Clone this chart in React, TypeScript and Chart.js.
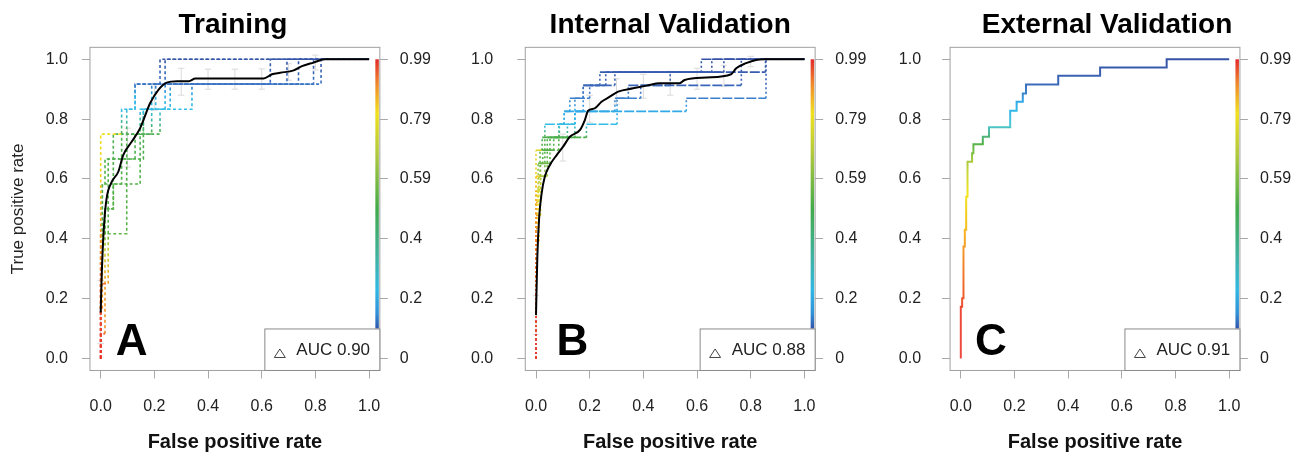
import React, { useEffect, useRef } from "react";
import { Chart, registerables } from "chart.js";

Chart.register(...registerables);

const FONT = "'Liberation Sans', Arial, Helvetica, sans-serif";
Chart.defaults.font.family = FONT;

// ---------- axis ticks ----------
const axisTicks = [0, 0.2, 0.4, 0.6, 0.8, 1.0];
const axisTickLabels = ["0.0", "0.2", "0.4", "0.6", "0.8", "1.0"];
const cutoffTickLabels = ["0", "0.2", "0.4", "0.59", "0.79", "0.99"];

// ---------- Panel A: Training ----------
const trainAvgFpr = [0, 0.004, 0.012, 0.022, 0.041, 0.066, 0.084, 0.116, 0.147, 0.184, 0.215, 0.246, 0.285, 0.328, 0.353, 0.607, 0.638, 0.669, 0.719, 0.75, 0.793, 0.835, 1.0];
const trainAvgTpr = [0.154, 0.285, 0.44, 0.535, 0.59, 0.625, 0.68, 0.725, 0.77, 0.853, 0.898, 0.922, 0.927, 0.927, 0.936, 0.936, 0.95, 0.955, 0.963, 0.977, 0.989, 1.0, 1.0];
const trainErrX = [0, 0.1, 0.2, 0.3, 0.4, 0.5, 0.6, 0.7, 0.8];
const trainErrLo = [0.05, 0.64, 0.83, 0.88, 0.9, 0.9, 0.9, 0.93, 0.964];
const trainErrHi = [0.26, 0.77, 0.92, 0.97, 0.967, 0.967, 0.968, 0.985, 1.014];
// fold curves: [fpr at the end of a plateau, tpr of that plateau]
const trainFold1 = [[0, 0], [0.078, 0.75], [0.128, 0.833], [0.221, 0.917], [1, 1]];
const trainFold2 = [[0, 0], [0.028, 0.25], [0.097, 0.417], [0.147, 0.583], [0.159, 0.667], [0.221, 0.75], [0.24, 0.833], [0.632, 0.917], [1, 1]];
const trainFold3 = [[0, 0], [0.016, 0.083], [0.047, 0.5], [0.078, 0.583], [0.097, 0.667], [0.159, 0.75], [0.19, 0.833], [0.694, 0.917], [1, 1]];
const trainFold4 = [[0, 0], [0.006, 0.333], [0.028, 0.583], [0.047, 0.667], [0.097, 0.75], [0.128, 0.833], [0.24, 0.917], [1, 1]];
const trainFold5 = [[0, 0], [0.016, 0.417], [0.028, 0.5], [0.047, 0.583], [0.128, 0.667], [0.147, 0.75], [0.34, 0.833], [0.737, 0.917], [1, 1]];
const trainFold6 = [[0, 0], [0.006, 0.167], [0.016, 0.583], [0.078, 0.667], [0.19, 0.75], [0.259, 0.833], [0.793, 0.917], [1, 1]];
const trainFold7 = [[0, 0], [0.028, 0.417], [0.047, 0.5], [0.097, 0.583], [0.147, 0.667], [0.159, 0.75], [0.205, 0.833], [0.821, 0.917], [1, 1]];

// ---------- Panel B: Internal Validation ----------
const valAvgFpr = [0, 0.005, 0.012, 0.021, 0.033, 0.052, 0.077, 0.101, 0.126, 0.164, 0.182, 0.194, 0.219, 0.244, 0.275, 0.306, 0.362, 0.412, 0.461, 0.535, 0.554, 0.635, 0.727, 0.746, 0.783, 0.82, 0.851, 1.0];
const valAvgTpr = [0.145, 0.34, 0.474, 0.552, 0.608, 0.647, 0.68, 0.708, 0.741, 0.764, 0.797, 0.828, 0.836, 0.858, 0.875, 0.892, 0.903, 0.912, 0.92, 0.92, 0.931, 0.939, 0.95, 0.97, 0.987, 0.998, 1.0, 1.0];
const valErrX = [0, 0.1, 0.2, 0.3, 0.4, 0.5, 0.6, 0.7, 0.8];
const valErrLo = [0.08, 0.66, 0.79, 0.85, 0.87, 0.88, 0.9, 0.91, 0.975];
const valErrHi = [0.21, 0.75, 0.88, 0.935, 0.95, 0.96, 0.97, 0.98, 1.01];
const valFold1 = [[0, 0], [0.023, 0.696], [0.087, 0.739], [0.105, 0.783], [0.126, 0.826], [0.176, 0.87], [0.238, 0.913], [0.616, 0.957], [1, 1]];
const valFold2 = [[0, 0], [0.008, 0.522], [0.025, 0.652], [0.042, 0.696], [0.188, 0.739], [0.302, 0.783], [0.344, 0.87], [0.765, 0.913], [1, 1]];
const valFold3 = [[0, 0], [0.015, 0.609], [0.033, 0.696], [0.105, 0.783], [0.56, 0.826], [0.857, 0.87], [1, 1]];
const valFold4 = [[0, 0], [0.005, 0.435], [0.017, 0.565], [0.052, 0.652], [0.145, 0.739], [0.176, 0.826], [0.26, 0.913], [0.855, 0.957], [1, 1]];
const valFold5 = [[0, 0], [0.011, 0.391], [0.033, 0.609], [0.085, 0.696], [0.145, 0.783], [0.294, 0.826], [0.39, 0.87], [0.5, 0.913], [0.655, 0.957], [1, 1]];
const valFold6 = [[0, 0], [0.017, 0.478], [0.042, 0.609], [0.066, 0.696], [0.117, 0.739], [0.145, 0.783], [0.2, 0.87], [0.294, 0.913], [0.7, 0.957], [1, 1]];

// ---------- Panel C: External Validation ----------
const extFpr = [0, 0.005, 0.01, 0.015, 0.02, 0.025, 0.042, 0.047, 0.082, 0.105, 0.184, 0.208, 0.231, 0.243, 0.363, 0.519, 0.767, 1.0];
const extTpr = [0, 0.173, 0.201, 0.374, 0.43, 0.541, 0.658, 0.686, 0.716, 0.741, 0.773, 0.828, 0.858, 0.886, 0.916, 0.945, 0.973, 1.0];

// ---------- styling ----------
const H = 452;
const U = 268.4;
const TOP = 47.33;
const BOTTOM = 370.47;
const TICK_COLOR = "#a8a8a8";
const BOX_COLOR = "#a0a0a0";
const TEXT_COLOR = "#222";

type Stop = [number, string];

const colorbarStops: Stop[] = [
  [0.1, "#3152a8"], [0.15, "#3090d8"], [0.23, "#30b8e4"], [0.34, "#3fb2a0"],
  [0.5, "#42aa4a"], [0.68, "#aec83e"], [0.82, "#f1e01e"], [0.92, "#f0862c"], [1.0, "#e2292b"],
];

// colours along tpr for curve pieces rising from fpr = 0, and for the rest
const trainEdgeStops: Stop[] = [
  [0, "#e8362e"], [0.15, "#ec4a2e"], [0.3, "#f07a2a"], [0.45, "#f4a626"], [0.6, "#f5cf1f"], [0.75, "#efe021"], [1, "#efe021"],
];
const trainInnerStops: Stop[] = [
  [0, "#f07a2a"], [0.25, "#f4a226"], [0.36, "#c9d034"], [0.42, "#5cb448"], [0.7, "#4caf4a"], [0.76, "#52b25a"],
  [0.83, "#33bde6"], [0.88, "#30aee6"], [0.917, "#3a74c4"], [1, "#3556a8"],
];
const valEdgeStops: Stop[] = [
  [0, "#e8362e"], [0.15, "#ec4a2e"], [0.35, "#f07a2a"], [0.5, "#f4a626"], [0.62, "#f5cf1f"], [0.72, "#d6d82a"], [1, "#d6d82a"],
];
const valInnerStops: Stop[] = [
  [0, "#f07a2a"], [0.3, "#f4a226"], [0.45, "#f5c81e"], [0.52, "#e8de22"], [0.6, "#b8cc3a"], [0.66, "#5cb448"],
  [0.74, "#4caf4a"], [0.78, "#33bde6"], [0.83, "#30a8e6"], [0.87, "#3a80cc"], [0.91, "#3a66ba"], [1, "#3552a6"],
];
const extStops: Stop[] = [
  [0, "#ee4a40"], [0.17, "#ec4a34"], [0.2, "#ee5a2a"], [0.37, "#f49a2a"], [0.45, "#f5c21e"],
  [0.55, "#f2e41c"], [0.62, "#cbd63a"], [0.66, "#a8c93b"], [0.7, "#6cbb45"], [0.72, "#52b04a"],
  [0.75, "#4db68a"], [0.78, "#4cc8d8"], [0.83, "#30b8e8"], [0.86, "#30a8e8"], [0.89, "#3a80c8"],
  [0.92, "#3c68b8"], [1.0, "#3552a6"],
];

type Panel = {
  key: string;
  title: string;
  titleShift: number;
  letter: string;
  auc: string;
  canvasLeft: number;
  canvasWidth: number;
  x0: number;
  yLabelPad: number;
  letterX: number;
  showYTitle: boolean;
  folds: number[][][];
  avgFpr: number[] | null;
  avgTpr: number[] | null;
  errX: number[];
  errLo: number[];
  errHi: number[];
  singleFpr: number[] | null;
  singleTpr: number[] | null;
  vDash: number[];
  hDash: number[];
  edgeStops: Stop[];
  innerStops: Stop[];
};

const panels: Panel[] = [
  {
    key: "A", title: "Training", titleShift: -2, letter: "A", auc: "AUC 0.90",
    canvasLeft: 0, canvasWidth: 440, x0: 100.7, yLabelPad: 14, letterX: 0.115, showYTitle: true,
    folds: [trainFold1, trainFold2, trainFold3, trainFold4, trainFold5, trainFold6, trainFold7],
    avgFpr: trainAvgFpr, avgTpr: trainAvgTpr,
    errX: trainErrX, errLo: trainErrLo, errHi: trainErrHi,
    singleFpr: null, singleTpr: null,
    vDash: [3, 2.5], hDash: [3, 2.5], edgeStops: trainEdgeStops, innerStops: trainInnerStops,
  },
  {
    key: "B", title: "Internal Validation", titleShift: 0, letter: "B", auc: "AUC 0.88",
    canvasLeft: 440, canvasWidth: 430, x0: 536, yLabelPad: 24, letterX: 0.136, showYTitle: false,
    folds: [valFold1, valFold2, valFold3, valFold4, valFold5, valFold6],
    avgFpr: valAvgFpr, avgTpr: valAvgTpr,
    errX: valErrX, errLo: valErrLo, errHi: valErrHi,
    singleFpr: null, singleTpr: null,
    vDash: [2, 2.5], hDash: [10, 2], edgeStops: valEdgeStops, innerStops: valInnerStops,
  },
  {
    key: "C", title: "External Validation", titleShift: 12, letter: "C", auc: "AUC 0.91",
    canvasLeft: 870, canvasWidth: 425, x0: 960.8, yLabelPad: 21, letterX: 0.112, showYTitle: false,
    folds: [],
    avgFpr: null, avgTpr: null,
    errX: [], errLo: [], errHi: [],
    singleFpr: extFpr, singleTpr: extTpr,
    vDash: [], hDash: [], edgeStops: extStops, innerStops: extStops,
  },
];

// vertical gradient following the tpr axis
function tprGradient(chart: any, stops: Stop[]) {
  const { ctx, scales, chartArea } = chart;
  const ys = scales?.y;
  if (!chartArea || !ys) return stops[0][1];
  chart.$grads = chart.$grads || new Map();
  const hit = chart.$grads.get(stops);
  if (hit) return hit;
  const py0 = ys.getPixelForValue(0), py1 = ys.getPixelForValue(1);
  const grad = ctx.createLinearGradient(0, py0, 0, py1);
  stops.forEach(([s, c]) => grad.addColorStop(Math.max(0, Math.min(1, s)), c));
  chart.$grads.set(stops, grad);
  return grad;
}

// expand plateau list into the corner points of the staircase
function staircase(f: number[][]) {
  const pts: { x: number; y: number }[] = [{ x: f[0][0], y: f[0][1] }];
  for (let i = 1; i < f.length; i++) {
    pts.push({ x: f[i - 1][0], y: f[i][1] });
    pts.push({ x: f[i][0], y: f[i][1] });
  }
  return pts;
}

function buildConfig(p: Panel): any {
  const chartLeft = p.x0 - 0.04 * U;
  const chartRight = p.x0 + 1.04 * U;
  const leftW = chartLeft - p.canvasLeft;
  const rightW = p.canvasLeft + p.canvasWidth - chartRight;
  const bottomH = H - BOTTOM;

  const datasets: any[] = [];
  const segColor = (sctx: any) =>
    tprGradient(sctx.chart, sctx.p0.parsed.x < 0.004 ? p.edgeStops : p.innerStops);
  const segDash = (sctx: any) =>
    Math.abs(sctx.p0.parsed.x - sctx.p1.parsed.x) < 1e-9 ? p.vDash : p.hDash;

  if (p.avgFpr && p.avgTpr) {
    datasets.push({
      data: p.avgFpr.map((x, i) => ({ x, y: p.avgTpr![i] })),
      showLine: true, borderColor: "#000", borderWidth: 2, pointRadius: 0,
      cubicInterpolationMode: "monotone", order: 0,
    });
  }
  p.folds.forEach((f) => {
    datasets.push({
      data: staircase(f),
      showLine: true, borderWidth: 1.6, pointRadius: 0, borderColor: "#888",
      segment: { borderColor: segColor, borderDash: segDash }, order: 2,
    });
  });
  if (p.errX.length) {
    const cap = 0.012;
    const pts: any[] = [];
    p.errX.forEach((x, i) => {
      const lo = p.errLo[i], hi = p.errHi[i];
      pts.push({ x, y: lo }, { x, y: hi }, { x, y: null });
      pts.push({ x: x - cap, y: hi }, { x: x + cap, y: hi }, { x, y: null });
      pts.push({ x: x - cap, y: lo }, { x: x + cap, y: lo }, { x, y: null });
    });
    datasets.push({
      data: pts, showLine: true, spanGaps: false, borderColor: "#dadada",
      borderWidth: 1, pointRadius: 0, order: 3,
    });
  }
  if (p.singleFpr && p.singleTpr) {
    datasets.push({
      data: p.singleFpr.map((x, i) => ({ x, y: p.singleTpr![i] })),
      showLine: true, stepped: "after", borderWidth: 2, pointRadius: 0,
      borderColor: (ctx: any) => tprGradient(ctx.chart, p.innerStops), order: 1,
    });
  }

  const tickFont = { family: FONT, size: 16 };
  const grid = { display: true, drawOnChartArea: false, drawTicks: true, tickLength: 8, color: TICK_COLOR, lineWidth: 1 };
  const setTicks = (s: any) => { s.ticks = axisTicks.map((v) => ({ value: v })); };

  const decor = {
    id: "decor" + p.key,
    afterDraw(chart: any) {
      const { ctx, chartArea: ca, scales } = chart;
      const xs = scales.x, ys = scales.y;
      ctx.save();
      // plot box
      ctx.strokeStyle = BOX_COLOR;
      ctx.lineWidth = 1;
      ctx.setLineDash([]);
      ctx.strokeRect(ca.left, ca.top, ca.right - ca.left, ca.bottom - ca.top);
      // colour bar
      const cbTop = ys.getPixelForValue(1.0);
      const cbBot = ys.getPixelForValue(0.1);
      const g = ctx.createLinearGradient(0, cbBot, 0, cbTop);
      colorbarStops.forEach(([v, c]) => g.addColorStop((v - 0.1) / 0.9, c));
      ctx.fillStyle = g;
      ctx.fillRect(ca.right - 4.5, cbTop, 3.5, cbBot - cbTop);
      // title
      ctx.fillStyle = "#000";
      ctx.font = `bold 28px ${FONT}`;
      ctx.textAlign = "center";
      ctx.textBaseline = "alphabetic";
      ctx.fillText(p.title, xs.getPixelForValue(0.5) + p.titleShift, 33);
      // panel letter
      ctx.font = `bold 44px ${FONT}`;
      ctx.fillText(p.letter, xs.getPixelForValue(p.letterX), ys.getPixelForValue(0.012));
      // legend box
      const lw = 115, lh = 41.5;
      const lx = ca.right - lw, ly = ca.bottom - lh;
      ctx.fillStyle = "#fff";
      ctx.fillRect(lx, ly, lw, lh);
      ctx.strokeStyle = "#8a8a8a";
      ctx.strokeRect(lx, ly, lw, lh);
      const tx = lx + 15, ty = ca.bottom - 17;
      ctx.beginPath();
      ctx.moveTo(tx, ty - 4.5);
      ctx.lineTo(tx + 5.5, ty + 4);
      ctx.lineTo(tx - 5.5, ty + 4);
      ctx.closePath();
      ctx.strokeStyle = "#444";
      ctx.stroke();
      ctx.fillStyle = TEXT_COLOR;
      ctx.font = `17px ${FONT}`;
      ctx.textAlign = "left";
      ctx.fillText(p.auc, lx + 31.5, ca.bottom - 15);
      ctx.restore();
    },
  };

  return {
    type: "scatter",
    data: { datasets },
    options: {
      animation: false,
      responsive: false,
      devicePixelRatio: 1,
      events: [],
      layout: { padding: { top: TOP, left: 0, right: 0, bottom: 0 } },
      plugins: { legend: { display: false }, tooltip: { enabled: false }, title: { display: false } },
      scales: {
        x: {
          type: "linear", position: "bottom", min: -0.04, max: 1.04,
          afterBuildTicks: setTicks,
          afterFit: (s: any) => { s.height = bottomH; },
          ticks: { callback: (_v: any, i: number) => axisTickLabels[i], font: tickFont, color: TEXT_COLOR, padding: 19, maxRotation: 0, autoSkip: false },
          grid, border: { display: false },
          title: { display: true, text: "False positive rate", color: "#111", font: { family: FONT, size: 20, weight: "bold", lineHeight: 1 }, padding: { top: 0, bottom: 0 } },
        },
        y: {
          type: "linear", position: "left", min: -0.04, max: 1.04,
          afterBuildTicks: setTicks,
          afterFit: (s: any) => { s.width = leftW; },
          ticks: { callback: (_v: any, i: number) => axisTickLabels[i], font: tickFont, color: TEXT_COLOR, padding: p.yLabelPad, autoSkip: false },
          grid, border: { display: false },
          title: { display: p.showYTitle, text: "True positive rate", color: TEXT_COLOR, font: { family: FONT, size: 17, lineHeight: 1 }, padding: { top: 9.5, bottom: 0 } },
        },
        y2: {
          type: "linear", position: "right", min: -0.04, max: 1.04,
          afterBuildTicks: setTicks,
          afterFit: (s: any) => { s.width = rightW; },
          ticks: { callback: (_v: any, i: number) => cutoffTickLabels[i], font: tickFont, color: TEXT_COLOR, padding: 12, autoSkip: false },
          grid, border: { display: false },
        },
      },
    },
    plugins: [decor],
  };
}

function PanelChart({ panel }: { panel: Panel }) {
  const ref = useRef<HTMLCanvasElement | null>(null);
  useEffect(() => {
    if (!ref.current) return;
    const chart = new Chart(ref.current, buildConfig(panel));
    return () => chart.destroy();
  }, [panel]);
  return (
    <canvas
      ref={ref}
      width={panel.canvasWidth}
      height={H}
      style={{ position: "absolute", left: panel.canvasLeft, top: 0, width: panel.canvasWidth, height: H }}
    />
  );
}

export default function App() {
  return (
    <div style={{ position: "absolute", left: 0, top: 0, width: 1295, height: H, background: "#fff", overflow: "hidden" }}>
      {panels.map((p) => (
        <PanelChart key={p.key} panel={p} />
      ))}
    </div>
  );
}
